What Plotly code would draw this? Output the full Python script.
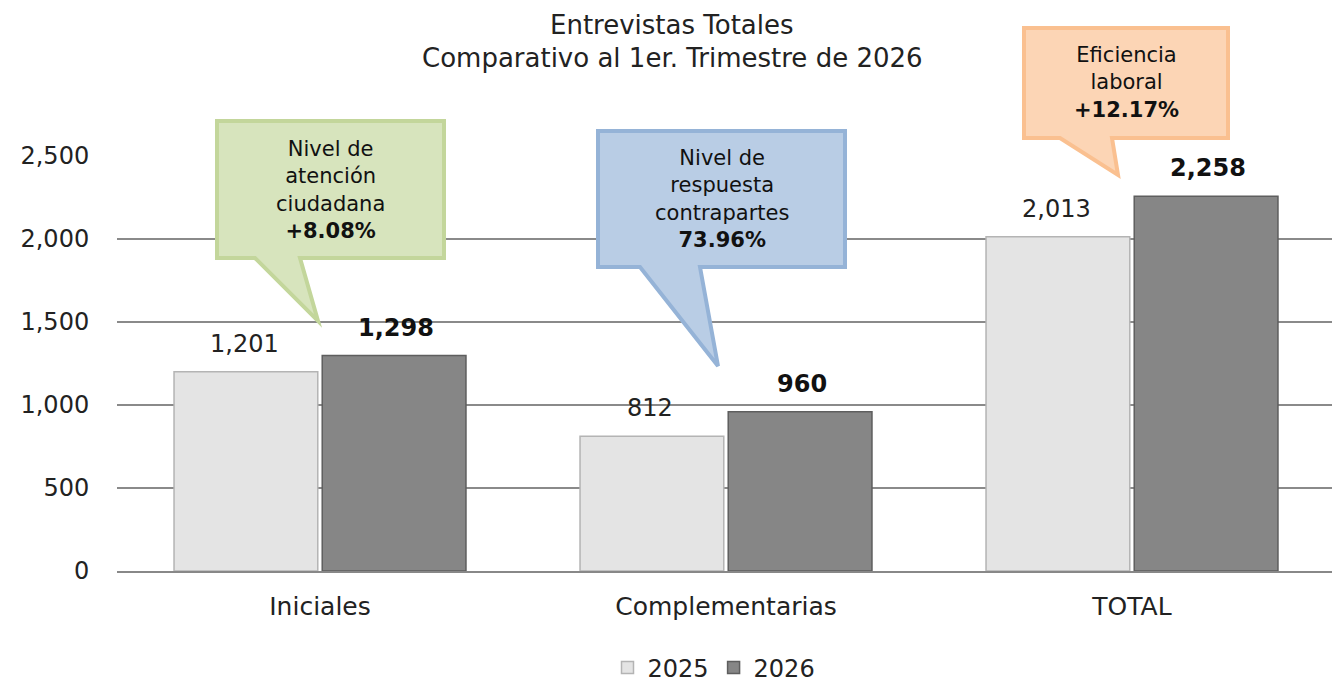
import plotly.graph_objects as go

categories = ["Iniciales", "Complementarias", "TOTAL"]
values_2025 = [1201, 812, 2013]
values_2026 = [1298, 960, 2258]
series_names = ["2025", "2026"]
y_ticks = [0, 500, 1000, 1500, 2000, 2500]

title_lines = ["Entrevistas Totales", "Comparativo al 1er. Trimestre de 2026"]
callout_texts = [
    "Nivel de<br>atención<br>ciudadana<br><b>+8.08%</b>",
    "Nivel de<br>respuesta<br>contrapartes<br><b>73.96%</b>",
    "Eficiencia<br>laboral<br><b>+12.17%</b>",
]

FONT = "DejaVu Sans"
OFF = 8  # page body margin offset
W, H = 1340, 681
# target plot area in screenshot pixels: x 117..1335, y 156..571
L = 117 - OFF
T = 156 - OFF
R = W - (1335 - OFF)
B = H - (571 - OFF)
PW, PH = W - L - R, H - T - B


def px(x):
    return (x - OFF - L) / PW


def py(y):
    return (H - B - (y - OFF)) / PH


fig = go.Figure()
fig.add_trace(go.Bar(
    x=categories, y=values_2025, name=series_names[0],
    marker=dict(color="#e4e4e4", line=dict(color="#b4b4b4", width=1.5)),
))
fig.add_trace(go.Bar(
    x=categories, y=values_2026, name=series_names[1],
    marker=dict(color="#868686", line=dict(color="#5e5e5e", width=1.5)),
))

# value labels above bars
for cat, v in zip(categories, values_2025):
    fig.add_annotation(x=cat, y=v, xref="x", yref="y", xshift=-76, yshift=12,
                       yanchor="bottom", showarrow=False, text=f"{v:,}",
                       font=dict(size=24, color="#222222", family=FONT))
for cat, v in zip(categories, values_2026):
    fig.add_annotation(x=cat, y=v, xref="x", yref="y", xshift=76, yshift=12,
                       yanchor="bottom", showarrow=False, text=f"<b>{v:,}</b>",
                       font=dict(size=24, color="#111111", family=FONT))

callouts = [
    dict(box=(217, 121, 444, 258), tail=(255, 300, 318, 321), fill="#d7e4bd", line="#c3d69b"),
    dict(box=(598, 131, 845, 267), tail=(640, 700, 718, 366), fill="#b9cde5", line="#95b3d7"),
    dict(box=(1024, 28, 1228, 138), tail=(1060, 1112, 1118, 175), fill="#fcd5b5", line="#fac090"),
]
for c, txt in zip(callouts, callout_texts):
    x0, y0, x1, y1 = c["box"]
    ta, tb, tx, ty = c["tail"]
    pts = [(x0, y0), (x1, y0), (x1, y1), (tb, y1), (tx, ty), (ta, y1), (x0, y1)]
    path = "M " + " L ".join(f"{px(a):.5f},{py(b):.5f}" for a, b in pts) + " Z"
    fig.add_shape(type="path", path=path, xref="paper", yref="paper",
                  fillcolor=c["fill"], line=dict(color=c["line"], width=4), layer="above")
    fig.add_annotation(x=px((x0 + x1) / 2), y=py((y0 + y1) / 2), xref="paper", yref="paper",
                       xanchor="center", yanchor="middle",
                       text=txt, showarrow=False, align="center",
                       font=dict(size=21, color="#111111", family=FONT))

for line, ycen in zip(title_lines, [25, 58]):
    fig.add_annotation(x=px(672), y=py(ycen), xref="paper", yref="paper",
                       xanchor="center", yanchor="middle", text=line, showarrow=False,
                       align="center", font=dict(size=26, color="#222222", family=FONT))

fig.update_layout(
    width=W, height=H,
    margin=dict(l=L, r=R, t=T, b=B, autoexpand=False),
    paper_bgcolor="white", plot_bgcolor="white",
    barmode="group", bargap=0.27, bargroupgap=0.03,
    font=dict(family=FONT, color="#222222"),
    legend=dict(orientation="h", x=px(714), xanchor="center", y=py(668), yanchor="middle",
                font=dict(size=24, color="#222222", family=FONT)),
    xaxis=dict(showgrid=False, showline=True, linecolor="#888888", linewidth=1.5,
               tickfont=dict(size=25, color="#222222", family=FONT), ticks="outside",
               ticklen=12, tickcolor="rgba(0,0,0,0)", automargin=False),
    yaxis=dict(range=[0, 2500], tickvals=y_ticks, tickformat=",",
               showgrid=True, gridcolor="#8a8a8a", gridwidth=1.5, zeroline=False,
               tickfont=dict(size=24, color="#222222", family=FONT), ticks="outside",
               ticklen=22, tickcolor="rgba(0,0,0,0)",
               showline=False, automargin=False),
)
fig.write_html("out.html")
